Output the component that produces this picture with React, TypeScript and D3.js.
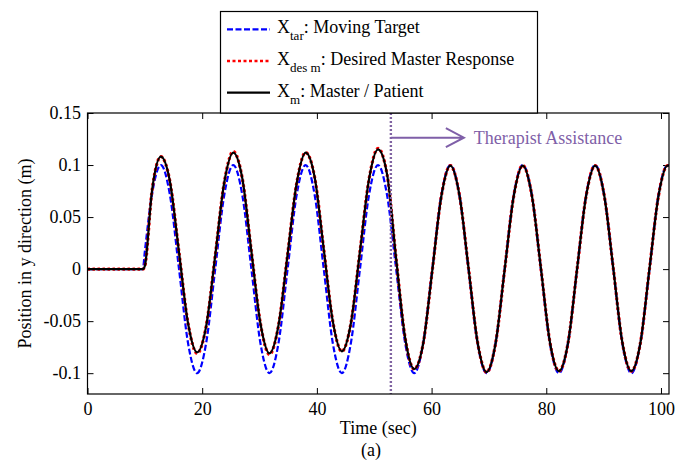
import { useEffect, useRef } from "react"
import * as d3 from "d3"

// time samples (sec) at ~1/8 period steps
const timeSec = [
  0, 9.65, 10.0,
  11.22, 12.8, 14.38, 15.96, 17.53, 19.11, 20.69, 22.27,
  23.84, 25.42, 27.0, 28.58, 30.15, 31.73, 33.31, 34.89,
  36.46, 38.04, 39.62, 41.2, 42.77, 44.35, 45.93, 47.51,
  49.08, 50.66, 52.24, 53.82, 55.39, 56.97, 58.55, 60.13,
  61.7, 63.28, 64.86, 66.44, 68.01, 69.59, 71.17, 72.75,
  74.32, 75.9, 77.48, 79.06, 80.63, 82.21, 83.79, 85.37,
  86.94, 88.52, 90.1, 91.68, 93.25, 94.83, 96.41, 97.99,
  99.56, 101.14, 101.4,
]

// X_tar : moving target
const targetPos = [
  0, 0, 0.017,
  0.071, 0.1, 0.071, 0, -0.071, -0.1, -0.071, 0,
  0.071, 0.1, 0.071, 0, -0.071, -0.1, -0.071, 0,
  0.071, 0.1, 0.071, 0, -0.071, -0.1, -0.071, 0,
  0.071, 0.1, 0.071, 0, -0.071, -0.1, -0.071, 0,
  0.071, 0.1, 0.071, 0, -0.071, -0.1, -0.071, 0,
  0.071, 0.1, 0.071, 0, -0.071, -0.1, -0.071, 0,
  0.071, 0.1, 0.071, 0, -0.071, -0.1, -0.071, 0,
  0.071, 0.1, 0.0995,
]

// X_des m : desired master response
const desiredPos = [
  0, 0, 0.003,
  0.074, 0.108, 0.084, 0.016, -0.052, -0.081, -0.055, 0.013,
  0.083, 0.113, 0.087, 0.017, -0.052, -0.082, -0.054, 0.014,
  0.082, 0.112, 0.088, 0.019, -0.05, -0.079, -0.052, 0.017,
  0.086, 0.116, 0.091, 0.01, -0.066, -0.096, -0.071, -0.001,
  0.07, 0.0995, 0.071, 0.001, -0.07, -0.099, -0.071, 0,
  0.07, 0.0995, 0.071, 0.001, -0.07, -0.098, -0.071, 0,
  0.07, 0.0995, 0.071, 0.001, -0.07, -0.098, -0.071, 0,
  0.07, 0.0995, 0.099,
]

// X_m : master / patient
const masterPos = [
  0, 0, 0.003,
  0.074, 0.108, 0.084, 0.016, -0.052, -0.08, -0.055, 0.013,
  0.083, 0.112, 0.087, 0.017, -0.052, -0.081, -0.054, 0.014,
  0.082, 0.112, 0.088, 0.019, -0.05, -0.079, -0.052, 0.017,
  0.086, 0.115, 0.091, 0.01, -0.066, -0.096, -0.071, -0.001,
  0.07, 0.0995, 0.071, 0.001, -0.07, -0.099, -0.071, 0,
  0.07, 0.0995, 0.071, 0.001, -0.07, -0.098, -0.071, 0,
  0.07, 0.0995, 0.071, 0.001, -0.07, -0.098, -0.071, 0,
  0.07, 0.0995, 0.099,
]

const xTicks = [0, 20, 40, 60, 80, 100]
const yTicks = [-0.1, -0.05, 0, 0.05, 0.1, 0.15]
const assistTime = 52.9

const legendItems = [
  { main: "X", sub: "tar", text: ": Moving Target", color: "#0000ff", dash: "6,2.5", width: 2.2 },
  { main: "X", sub: "des m", text: ": Desired Master Response", color: "#ff0000", dash: "3,2.5", width: 2.6 },
  { main: "X", sub: "m", text: ": Master / Patient", color: "#000000", dash: null, width: 2.2 },
]

const FONT = "'Liberation Serif', 'Times New Roman', serif"
const PURPLE = "#7f5fa8"

const App = () => {
  const svgRef = useRef<SVGSVGElement | null>(null)

  useEffect(() => {
    const width = 684
    const height = 468
    const left = 87.5
    const right = 669
    const top = 113
    const bottom = 394

    const x = d3.scaleLinear().domain([0, 101.4]).range([left, right])
    const y = d3.scaleLinear().domain([-0.12, 0.15]).range([bottom, top])

    const svg = d3.select(svgRef.current)
    svg.selectAll("*").remove()
    svg.attr("width", width).attr("height", height)

    svg.append("rect").attr("width", width).attr("height", height).attr("fill", "#fff")

    svg
      .append("clipPath")
      .attr("id", "plotClip")
      .append("rect")
      .attr("x", left)
      .attr("y", top)
      .attr("width", right - left)
      .attr("height", bottom - top)

    // axes, MATLAB style: ticks inside on all four sides
    const fmtY = (d) => String(d)
    const axisStyle = (g) => {
      g.select(".domain").remove()
      g.selectAll("line").attr("stroke", "#000").attr("stroke-width", 1)
      g.selectAll("text").attr("fill", "#000").style("font-family", FONT).style("font-size", "18px")
    }

    svg
      .append("g")
      .attr("transform", `translate(0,${bottom})`)
      .call(d3.axisBottom(x).tickValues(xTicks).tickSizeInner(-6).tickSizeOuter(0).tickPadding(8))
      .call(axisStyle)
    svg
      .append("g")
      .attr("transform", `translate(0,${top})`)
      .call(d3.axisTop(x).tickValues(xTicks).tickSizeInner(-6).tickSizeOuter(0).tickFormat(() => ""))
      .call(axisStyle)
    svg
      .append("g")
      .attr("transform", `translate(${left},0)`)
      .call(d3.axisLeft(y).tickValues(yTicks).tickSizeInner(-6).tickSizeOuter(0).tickPadding(6.5).tickFormat(fmtY))
      .call(axisStyle)
    svg
      .append("g")
      .attr("transform", `translate(${right},0)`)
      .call(d3.axisRight(y).tickValues(yTicks).tickSizeInner(-6).tickSizeOuter(0).tickFormat(() => ""))
      .call(axisStyle)

    // series
    const plot = svg.append("g").attr("clip-path", "url(#plotClip)")
    const makeLine = (vals) =>
      d3
        .line<number>()
        .x((_, i) => x(timeSec[i]))
        .y((d) => y(d))
        .curve(d3.curveMonotoneX)(vals)

    plot
      .append("path")
      .attr("d", makeLine(targetPos))
      .attr("fill", "none")
      .attr("stroke", "#0000ff")
      .attr("stroke-width", 2.2)
      .attr("stroke-dasharray", "6,2.5")
    plot
      .append("path")
      .attr("d", makeLine(desiredPos))
      .attr("fill", "none")
      .attr("stroke", "#ff0000")
      .attr("stroke-width", 3.2)
      .attr("stroke-dasharray", "2.5,2.5")
    plot
      .append("path")
      .attr("d", makeLine(masterPos))
      .attr("fill", "none")
      .attr("stroke", "#000")
      .attr("stroke-width", 2.2)

    // therapist assistance marker
    const ax = x(assistTime)
    plot
      .append("line")
      .attr("x1", ax)
      .attr("x2", ax)
      .attr("y1", top)
      .attr("y2", bottom)
      .attr("stroke", "#8064a2")
      .attr("stroke-width", 2.4)
      .attr("stroke-dasharray", "2,2")

    const ay = 137.7
    const tip = ax + 73
    svg
      .append("path")
      .attr("d", `M${ax},${ay}H${tip}M${tip - 18},${ay - 9.5}L${tip},${ay}L${tip - 18},${ay + 9.5}`)
      .attr("fill", "none")
      .attr("stroke", PURPLE)
      .attr("stroke-width", 2)
    svg
      .append("text")
      .attr("x", tip + 10)
      .attr("y", 144)
      .attr("fill", PURPLE)
      .style("font-family", FONT)
      .style("font-size", "18px")
      .text("Therapist Assistance")

    // frame
    svg
      .append("rect")
      .attr("x", left)
      .attr("y", top)
      .attr("width", right - left)
      .attr("height", bottom - top)
      .attr("fill", "none")
      .attr("stroke", "#000")
      .attr("stroke-width", 1.2)

    // axis titles
    svg
      .append("text")
      .attr("x", (left + right) / 2)
      .attr("y", 434)
      .attr("text-anchor", "middle")
      .style("font-family", FONT)
      .style("font-size", "18px")
      .text("Time (sec)")
    svg
      .append("text")
      .attr("x", 371)
      .attr("y", 456)
      .attr("text-anchor", "middle")
      .style("font-family", FONT)
      .style("font-size", "18px")
      .text("(a)")
    svg
      .append("text")
      .attr("transform", `translate(31,${(top + bottom) / 2}) rotate(-90)`)
      .attr("text-anchor", "middle")
      .style("font-family", FONT)
      .style("font-size", "18px")
      .text("Position in y direction (m)")

    // legend
    const lg = svg.append("g")
    lg.append("rect")
      .attr("x", 220.5)
      .attr("y", 11.5)
      .attr("width", 317)
      .attr("height", top - 11.5)
      .attr("fill", "#fff")
      .attr("stroke", "#000")
      .attr("stroke-width", 1.2)

    legendItems.forEach((it, i) => {
      const base = 33.3 + i * 31.7
      lg.append("line")
        .attr("x1", 227)
        .attr("x2", 270)
        .attr("y1", base - 4)
        .attr("y2", base - 4)
        .attr("stroke", it.color)
        .attr("stroke-width", it.width)
        .attr("stroke-dasharray", it.dash)
      const t = lg
        .append("text")
        .attr("x", 277)
        .attr("y", base)
        .style("font-family", FONT)
        .style("font-size", "18px")
      t.append("tspan").text(it.main)
      t.append("tspan").attr("dy", 7).style("font-size", "13px").text(it.sub)
      t.append("tspan").attr("dy", -7).text(it.text)
    })
  }, [])

  return (
    <div style={{ position: "absolute", left: 0, top: 0 }}>
      <svg ref={svgRef} style={{ display: "block" }}></svg>
    </div>
  )
}

export default App
